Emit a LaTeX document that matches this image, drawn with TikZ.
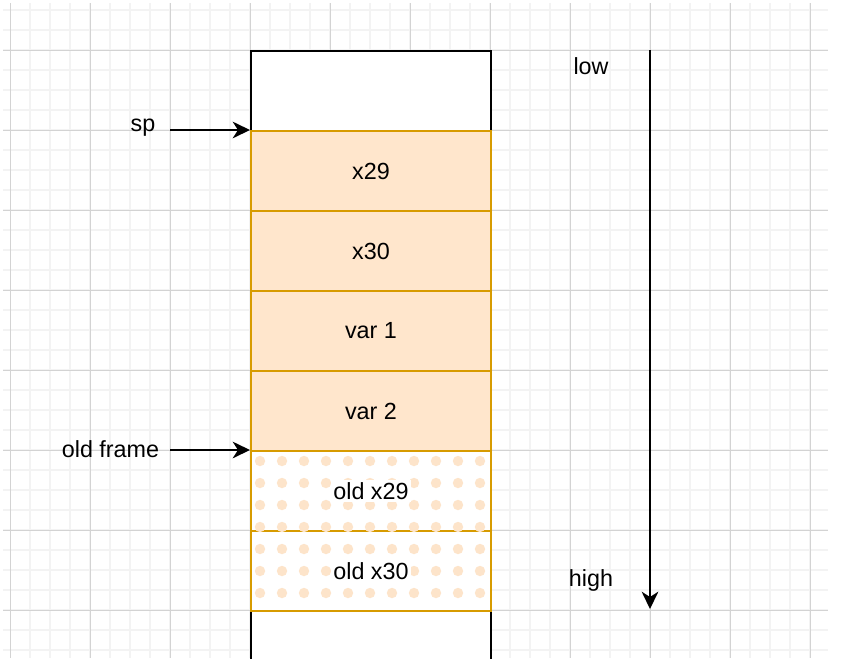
\documentclass[tikz,border=0pt]{standalone}
\usepackage{fontspec}
\setmainfont{Liberation Sans}
\usetikzlibrary{arrows.meta}

\definecolor{gridmajor}{HTML}{D3D3D3}
\definecolor{gridminor}{HTML}{F3F3F3}
\definecolor{slotfill}{HTML}{FFE6CC}
\definecolor{slotline}{HTML}{D79B00}
\definecolor{slotdot}{HTML}{FDE4CA}

\tikzset{
	slot/.style={draw=slotline, fill=slotfill, line width=1.5pt, minimum width=180pt, minimum height=60pt, inner sep=0pt, anchor=north west},
	oldslot/.style={slot, fill=white},
	stackend/.style={draw=black, fill=white, line width=1.5pt, minimum width=180pt, minimum height=60pt, inner sep=0pt, anchor=north west},
	pointer/.style={-{Stealth[length=13pt, width=12.5pt, inset=4pt]}, line width=1.5pt},
	tag/.style={inner sep=0pt}
}

\begin{document}
\begin{tikzpicture}[x=0.75pt, y=-0.75pt, font=\fontsize{17.5}{20}\selectfont]
		\useasboundingbox (0,0) rectangle (864,658);
		% grid
		\foreach \x in {30,50,...,810} \draw[gridminor, line width=1.3pt] (\x,3) -- (\x,658);
		\foreach \y in {10,30,...,650} \draw[gridminor, line width=1.3pt] (3,\y) -- (828,\y);
		\foreach \x in {10,90,...,810} \draw[gridmajor, line width=0.75pt] (\x,3) -- (\x,658);
		\foreach \y in {50,130,...,610} \draw[gridmajor, line width=0.75pt] (3,\y) -- (828,\y);

		% stack
		\node[stackend] (top) at (250,50) {};
		\node[stackend] (bottom) at (250,610) {};
		\node[slot] (x29) at (250,130) {x29};
		\node[slot] (x30) at (250,210) {x30};
		\node[slot] (var1) at (250,290) {var 1};
		\node[slot] (var2) at (250,370) {var 2};
		\node[oldslot] (oldx29) at (250,450) {};
		\node[oldslot] (oldx30) at (250,530) {};
		\foreach \i in {0,...,10}
			\foreach \j in {0,...,6}
				\fill[slotdot] (260+22*\i,461+22*\j) circle[radius=3.9pt];
		\node[fill=white, inner sep=1.5pt] at (oldx29.center) {old x29};
		\node[fill=white, inner sep=1.5pt] at (oldx30.center) {old x30};

		% pointers
		\node[tag] (sp) at (143,128) {sp};
		\coordinate (spfrom) at (170,130);
		\draw[pointer] (spfrom) -- (x29.north west);
		\node[tag] (oldframe) at (110.5,449) {old frame};
		\coordinate (framefrom) at (170,450);
		\draw[pointer] (framefrom) -- (oldx29.north west);

		% direction
		\node[tag] (low) at (591,66) {low};
		\node[tag] (high) at (591,580) {high};
		\coordinate (lowend) at (650,50);
		\coordinate (highend) at (650,609);
		\draw[pointer] (lowend) -- (highend);
	\end{tikzpicture}
\end{document}
